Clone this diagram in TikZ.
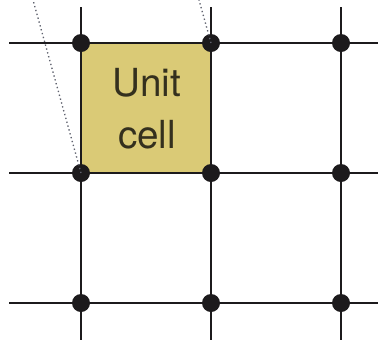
\documentclass[tikz,border=0pt]{standalone}
\usepackage{fontspec}
\setmainfont{TeX Gyre Heros}
\usetikzlibrary{positioning}
\definecolor{cellfill}{RGB}{218,202,118}
\definecolor{gridink}{RGB}{28,26,28}
\definecolor{textink}{RGB}{52,48,30}
\definecolor{guideink}{RGB}{95,98,110}
\tikzstyle{site}=[circle, fill=gridink, inner sep=0pt, minimum size=13.5pt]
\tikzstyle{bond}=[draw=gridink, line width=2.2pt]
\tikzstyle{guide}=[draw=guideink, dotted, line width=1pt]

\begin{document}
\begin{tikzpicture}[x=0.75pt,y=-0.75pt]
        \useasboundingbox (0,0) rectangle (378,344);
        % unit cell
        \fill[cellfill] (81,43) rectangle (211,173);
        % ends of the lattice lines
        \coordinate (rowAw) at (9,43);   \coordinate (rowAe) at (378,43);
        \coordinate (rowBw) at (9,173);  \coordinate (rowBe) at (378,173);
        \coordinate (rowCw) at (9,303);  \coordinate (rowCe) at (378,303);
        \coordinate (colAn) at (81,7);   \coordinate (colAs) at (81,340);
        \coordinate (colBn) at (211,7);  \coordinate (colBs) at (211,340);
        \coordinate (colCn) at (341,7);  \coordinate (colCs) at (341,340);
        \coordinate (guideL) at (33,0);
        \coordinate (guideR) at (199,0);
        \draw[bond] (rowAw) -- (rowAe);
        \draw[bond] (rowBw) -- (rowBe);
        \draw[bond] (rowCw) -- (rowCe);
        \draw[bond] (colAn) -- (colAs);
        \draw[bond] (colBn) -- (colBs);
        \draw[bond] (colCn) -- (colCs);
        % lattice points
        \node (siteAA) [site] at (81,43) {};
        \node (siteAB) [site] at (211,43) {};
        \node (siteAC) [site] at (341,43) {};
        \node (siteBA) [site] at (81,173) {};
        \node (siteBB) [site] at (211,173) {};
        \node (siteBC) [site] at (341,173) {};
        \node (siteCA) [site] at (81,303) {};
        \node (siteCB) [site] at (211,303) {};
        \node (siteCC) [site] at (341,303) {};
        \draw[guide] (siteBA.center) -- (guideL);
        \draw[guide] (siteAB.center) -- (guideR);
        \node (label) at (147,109) [align=center, text=textink,
          font=\fontsize{29}{39}\selectfont] {Unit\\cell};
\end{tikzpicture}
\end{document}
